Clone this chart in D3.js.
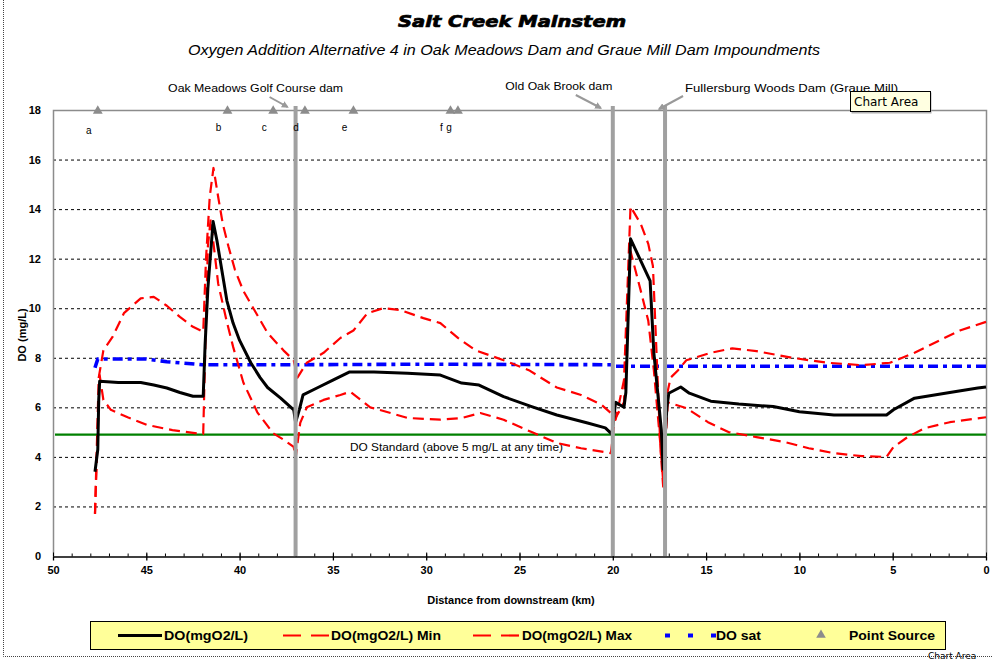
<!DOCTYPE html>
<html>
<head>
<meta charset="utf-8">
<script src="https://cdn.jsdelivr.net/npm/d3@7/dist/d3.min.js"></script>
<style>
  body { margin: 0; background: #fff; }
  text { font-family: "Liberation Sans", Arial, sans-serif; }
</style>
</head>
<body>
<script>
// distance from downstream (km), DO (mg/L)
const doLine = [[47.75,3.4],[47.6,4.3],[47.55,6.3],[47.5,7.05],[46.5,7.0],[45.3,7.0],[44.6,6.9],[43.9,6.78],[43.2,6.6],[42.5,6.45],[41.95,6.45],[41.85,8.5],[41.7,10.8],[41.42,13.5],[41.22,12.75],[40.9,11.3],[40.68,10.3],[40.35,9.4],[40.0,8.7],[39.4,7.8],[38.9,7.2],[38.5,6.8],[37.8,6.37],[37.1,5.9],[37.0,5.4],[36.8,5.9],[36.6,6.5],[35.8,6.8],[35.0,7.1],[34.1,7.43],[32.8,7.43],[31.0,7.38],[29.24,7.3],[28.1,6.98],[27.17,6.9],[25.85,6.43],[24.35,6.03],[23.0,5.69],[21.35,5.37],[20.4,5.17],[20.05,4.92],[19.85,6.2],[19.4,6.0],[19.3,6.6],[19.05,12.8],[18.0,11.1],[17.8,8.2],[17.4,5.1],[17.3,3.5],[17.1,6.0],[17.0,6.57],[16.36,6.82],[15.9,6.57],[14.75,6.25],[13.25,6.13],[11.4,6.03],[10.0,5.82],[8.15,5.69],[5.33,5.69],[4.96,5.9],[3.83,6.37],[1.94,6.6],[0.44,6.78],[0,6.82]];

const doMin = [[47.75,1.7],[47.5,7.3],[47.3,6.3],[46.9,5.9],[46.0,5.6],[44.96,5.29],[43.6,5.08],[42.3,4.95],[41.95,4.93],[41.85,8.0],[41.7,12.5],[41.55,13.6],[41.15,11.0],[40.7,9.5],[40.35,8.45],[39.8,7.0],[39.05,5.8],[38.2,4.95],[37.65,4.7],[37.1,4.4],[37.0,3.95],[36.75,5.37],[36.4,6.0],[35.5,6.3],[34.6,6.5],[34.07,6.63],[33.0,6.0],[31.9,5.77],[31.0,5.57],[29.24,5.5],[28.1,5.57],[27.1,5.77],[25.85,5.5],[24.35,5.0],[23.0,4.56],[21.7,4.35],[20.1,4.15],[19.9,5.5],[19.4,6.2],[19.25,9.0],[19.05,12.3],[18.5,10.7],[18.1,9.5],[17.8,7.5],[17.45,4.5],[17.3,3.0],[17.05,6.2],[16.06,5.97],[14.9,5.4],[13.8,5.0],[12.3,4.8],[10.8,4.6],[9.5,4.35],[8.15,4.15],[6.65,4.03],[5.33,4.0],[4.96,4.4],[4.2,4.8],[3.28,5.16],[1.94,5.4],[0,5.6]];

const doMax = [[47.75,1.7],[47.55,7.2],[47.3,8.3],[46.8,8.85],[46.2,9.8],[45.3,10.4],[44.6,10.46],[43.9,10.1],[43.2,9.65],[42.5,9.25],[41.95,9.05],[41.8,12.0],[41.6,14.5],[41.4,15.66],[41.15,14.5],[40.9,13.4],[40.6,12.5],[40.25,11.55],[39.8,10.7],[38.5,9.0],[37.65,8.3],[37.1,7.9],[36.9,7.2],[36.4,7.8],[35.5,8.2],[34.6,8.8],[33.9,9.1],[33.15,9.8],[32.3,10.0],[31.4,9.93],[30.15,9.6],[29.24,9.4],[28.3,8.8],[27.35,8.3],[25.85,7.9],[24.5,7.5],[23.0,6.8],[21.7,6.5],[20.6,6.1],[20.1,5.77],[19.85,5.5],[19.4,7.1],[19.2,11.1],[19.05,14.1],[18.5,13.4],[18.1,12.6],[17.85,11.7],[17.7,9.0],[17.45,4.4],[17.3,2.8],[17.1,6.5],[16.9,7.2],[16.5,7.5],[16.06,7.9],[14.75,8.2],[13.6,8.38],[12.3,8.27],[10.4,8.0],[8.5,7.8],[6.65,7.7],[5.15,7.8],[3.83,8.2],[2.5,8.7],[1.4,9.1],[0,9.45]];

const doSat = [[47.75,7.6],[47.6,7.95],[45.0,7.95],[43.9,7.84],[42.0,7.72],[37.0,7.72],[30.0,7.74],[20.05,7.72],[19.9,7.66],[0,7.66]];

const doStandard = 4.9;
const standardLabel = "DO Standard (above 5 mg/L at any time)";

const damKm = [37.0, 20.0, 17.2];
const damNames = ["Oak Meadows Golf Course dam", "Old Oak Brook dam", "Fullersburg Woods Dam (Graue Mill)"];

const sourceKm = [47.6, 40.65, 38.2, 36.5, 33.9, 28.7, 28.3];
const sourceLabels = ["a", "b", "c", "d", "e", "f", "g"];

const xTicks = [50, 45, 40, 35, 30, 25, 20, 15, 10, 5, 0];
const xMinor = d3.range(0, 51, 1);
const yTicks = [0, 2, 4, 6, 8, 10, 12, 14, 16, 18];

const legendNames = ["DO(mgO2/L)", "DO(mgO2/L) Min", "DO(mgO2/L) Max", "DO sat", "Point Source"];

const W = 993, H = 660;
const plot = { l: 53, r: 986, t: 110, b: 556 };

const x = d3.scaleLinear().domain([50, 0]).range([plot.l, plot.r]);
const y = d3.scaleLinear().domain([0, 18]).range([plot.b, plot.t]);

const svg = d3.select("body").append("svg")
    .attr("width", W)
    .attr("height", H);

// selection frame of the chart area (Excel artefact)
svg.append("path")
    .attr("d", `M3.5,0 V656.5 H${W}`)
    .attr("fill", "none")
    .attr("stroke", "#444")
    .attr("stroke-width", 1)
    .attr("stroke-dasharray", "1,1");

svg.append("text")
    .attr("x", 512).attr("y", 27)
    .attr("text-anchor", "middle")
    .attr("textLength", 228)
    .attr("lengthAdjust", "spacingAndGlyphs")
    .attr("stroke", "#000")
    .attr("stroke-width", 0.7)
    .style("font-family", "'DejaVu Sans', sans-serif")
    .style("font-weight", "900")
    .style("font-style", "italic")
    .style("font-size", "15px")
    .text("Salt Creek Mainstem");

svg.append("text")
    .attr("x", 504).attr("y", 55)
    .attr("text-anchor", "middle")
    .attr("textLength", 632)
    .attr("lengthAdjust", "spacingAndGlyphs")
    .style("font-style", "italic")
    .style("font-size", "14px")
    .text("Oxygen Addition Alternative 4 in Oak Meadows Dam and Graue Mill Dam Impoundments");

// gridlines
svg.append("g")
    .selectAll("line")
    .data(yTicks.filter(v => v > 0 && v < 18))
    .join("line")
    .attr("x1", plot.l).attr("x2", plot.r)
    .attr("y1", d => y(d) + 0.5).attr("y2", d => y(d) + 0.5)
    .attr("stroke", "#000")
    .attr("stroke-dasharray", "3,3");

// plot frame (top, right, left in grey)
svg.append("path")
    .attr("d", `M${plot.l + 0.5},${plot.b} V${plot.t + 0.5} H${plot.r + 0.5} V${plot.b}`)
    .attr("fill", "none")
    .attr("stroke", "#8c8c8c")
    .attr("stroke-width", 1.5);

// y axis labels
const yAxis = svg.append("g")
    .attr("transform", `translate(${plot.l},0)`)
    .call(d3.axisLeft(y).tickValues(yTicks).tickSize(0).tickPadding(12));
yAxis.select(".domain").remove();
yAxis.selectAll("text")
    .style("font-family", "'Liberation Sans', Arial, sans-serif")
    .style("font-weight", "bold")
    .style("font-size", "11px")
    .attr("fill", "#000");

svg.append("text")
    .attr("transform", `translate(26,${(plot.t + plot.b) / 2 + 2}) rotate(-90)`)
    .attr("text-anchor", "middle")
    .style("font-weight", "bold")
    .style("font-size", "11px")
    .text("DO (mg/L)");

// x axis
const xMinorAxis = svg.append("g")
    .attr("transform", `translate(0,${plot.b + 0.5})`)
    .call(d3.axisBottom(x).tickValues(xMinor).tickSize(-3).tickFormat(""));
xMinorAxis.select(".domain").remove();

const xUp = svg.append("g")
    .attr("transform", `translate(0,${plot.b + 0.5})`)
    .call(d3.axisBottom(x).tickValues(xTicks).tickSize(-4).tickFormat(""));
xUp.select(".domain").remove();

const xAxis = svg.append("g")
    .attr("transform", `translate(0,${plot.b + 0.5})`)
    .call(d3.axisBottom(x).tickValues(xTicks).tickSize(4).tickSizeOuter(0).tickPadding(6));
xAxis.select(".domain").attr("stroke", "#000").attr("stroke-width", 1.3);
xAxis.selectAll("line").attr("stroke-width", 1.3);
xAxis.selectAll("text")
    .style("font-family", "'Liberation Sans', Arial, sans-serif")
    .style("font-weight", "bold")
    .style("font-size", "11px")
    .attr("fill", "#000");

svg.append("text")
    .attr("x", 511).attr("y", 604)
    .attr("text-anchor", "middle")
    .style("font-weight", "bold")
    .style("font-size", "11px")
    .text("Distance from downstream (km)");

// DO standard
svg.append("line")
    .attr("x1", plot.l + 2).attr("x2", plot.r)
    .attr("y1", y(doStandard)).attr("y2", y(doStandard))
    .attr("stroke", "#008000")
    .attr("stroke-width", 2.2);

svg.append("text")
    .attr("x", 350).attr("y", 451)
    .attr("textLength", 213)
    .attr("lengthAdjust", "spacingAndGlyphs")
    .style("font-size", "11px")
    .text(standardLabel);

const line = d3.line()
    .x(d => x(d[0]))
    .y(d => y(d[1]));

const series = [
    { data: doSat, color: "#0000ff", width: 3.6, dash: "10,5,4,5" },
    { data: doMin, color: "#ff0000", width: 2.2, dash: "11,6" },
    { data: doMax, color: "#ff0000", width: 2.2, dash: "11,6" },
    { data: doLine, color: "#000", width: 3, dash: null }
];

svg.append("g")
    .selectAll("path")
    .data(series)
    .join("path")
    .attr("d", d => line(d.data))
    .attr("fill", "none")
    .attr("stroke", d => d.color)
    .attr("stroke-width", d => d.width)
    .attr("stroke-dasharray", d => d.dash)
    .attr("stroke-linejoin", "round");

// dams
svg.append("g")
    .selectAll("line")
    .data(damKm)
    .join("line")
    .attr("x1", d => x(d)).attr("x2", d => x(d))
    .attr("y1", 106).attr("y2", plot.b)
    .attr("stroke", "#a0a0a0")
    .attr("stroke-width", 4);

// point sources
svg.append("g")
    .selectAll("path")
    .data(sourceKm)
    .join("path")
    .attr("transform", d => `translate(${x(d)},${plot.t + 1})`)
    .attr("d", d3.symbol(d3.symbolTriangle, 42))
    .attr("fill", "#8c8c8c");

svg.append("g")
    .selectAll("text")
    .data(sourceKm)
    .join("text")
    .attr("x", d => x(d) - 9)
    .attr("y", (d, i) => i === 0 ? 134 : 131)
    .attr("text-anchor", "middle")
    .style("font-size", "10px")
    .text((d, i) => sourceLabels[i]);

// dam labels with arrows
const damLayout = [
    { dx: -40, anchor: "middle", len: 175, ty: 92, from: [-26, 97], to: [-8, 107] },
    { dx: -54, anchor: "middle", len: 107, ty: 90, from: [-37, 95], to: [-12, 108] },
    { dx: 20, anchor: "start", len: 213, ty: 92, from: [18, 96], to: [-6, 109] }
];

svg.append("defs").append("marker")
    .attr("id", "arrow")
    .attr("viewBox", "0 0 10 10")
    .attr("refX", 8).attr("refY", 5)
    .attr("markerWidth", 3.5).attr("markerHeight", 3.5)
    .attr("orient", "auto")
    .append("path")
    .attr("d", "M0,0 L10,5 L0,10 z")
    .attr("fill", "#999");

const damLabel = svg.append("g")
    .selectAll("g")
    .data(damKm)
    .join("g");

damLabel.append("line")
    .attr("x1", (d, i) => x(d) + damLayout[i].from[0])
    .attr("y1", (d, i) => damLayout[i].from[1])
    .attr("x2", (d, i) => x(d) + damLayout[i].to[0])
    .attr("y2", (d, i) => damLayout[i].to[1])
    .attr("stroke", "#999")
    .attr("stroke-width", 2)
    .attr("marker-end", "url(#arrow)");

damLabel.append("text")
    .attr("x", (d, i) => x(d) + damLayout[i].dx)
    .attr("y", (d, i) => damLayout[i].ty)
    .attr("text-anchor", (d, i) => damLayout[i].anchor)
    .attr("textLength", (d, i) => damLayout[i].len)
    .attr("lengthAdjust", "spacingAndGlyphs")
    .style("font-size", "11px")
    .text((d, i) => damNames[i]);

// tooltip artefact
const tip = svg.append("g").attr("transform", "translate(850,91)");
tip.append("rect")
    .attr("x", 1.5).attr("y", 1.5).attr("width", 80).attr("height", 21)
    .attr("fill", "#b0b0b0");
tip.append("rect")
    .attr("x", 0.5).attr("y", 0.5).attr("width", 80).attr("height", 20)
    .attr("fill", "#ffffe1")
    .attr("stroke", "#000");
tip.append("text")
    .attr("x", 4).attr("y", 15)
    .style("font-family", "'DejaVu Sans', sans-serif")
    .style("font-size", "12px")
    .text("Chart Area");

// legend
const legend = svg.append("g").attr("transform", "translate(90,621)");
legend.append("rect")
    .attr("x", 0.5).attr("y", 0.5).attr("width", 855).attr("height", 28)
    .attr("fill", "#ffff99")
    .attr("stroke", "#000");

const legendItems = [
    { x0: 28, x1: 72, tx: 74, len: 84, color: "#000", width: 3, dash: null },
    { x0: 193, x1: 240, tx: 241, len: 110, color: "#ff0000", width: 2.2, dash: "18,10" },
    { x0: 383, x1: 430, tx: 432, len: 110, color: "#ff0000", width: 2.2, dash: "18,10" },
    { x0: 575, x1: 626, tx: 626, len: 45, color: "#0000ff", width: 4, dash: "5,18" },
    { x0: null, tx: 759, len: 86 }
];

legendItems.forEach((it, i) => {
    if (it.x0 !== null) {
        legend.append("line")
            .attr("x1", it.x0).attr("x2", it.x1)
            .attr("y1", 14.5).attr("y2", 14.5)
            .attr("stroke", it.color)
            .attr("stroke-width", it.width)
            .attr("stroke-dasharray", it.dash);
    } else {
        legend.append("path")
            .attr("transform", "translate(731,14)")
            .attr("d", d3.symbol(d3.symbolTriangle, 40))
            .attr("fill", "#8c8c8c");
    }
    legend.append("text")
        .attr("x", it.tx).attr("y", 18.5)
        .attr("textLength", it.len)
        .attr("lengthAdjust", "spacingAndGlyphs")
        .style("font-weight", "bold")
        .style("font-size", "12px")
        .text(legendNames[i]);
});

// "Chart Area" label at the bottom right
svg.append("text")
    .attr("x", 928).attr("y", 659)
    .style("font-family", "'DejaVu Sans', sans-serif")
    .style("font-size", "9px")
    .text("Chart Area");
</script>
</body>
</html>
